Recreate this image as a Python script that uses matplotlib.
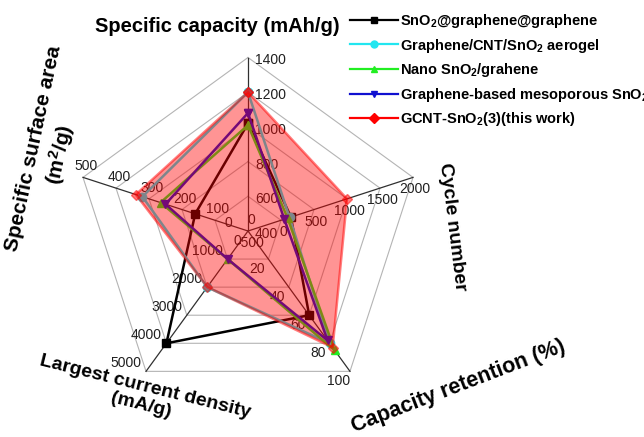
import numpy as np
import matplotlib.pyplot as plt

plt.rcParams['font.family'] = ['Liberation Sans', 'DejaVu Sans']
plt.rcParams['mathtext.fontset'] = 'custom'
plt.rcParams['mathtext.rm'] = 'Liberation Sans'
plt.rcParams['mathtext.bf'] = 'Liberation Sans:bold'
plt.rcParams['mathtext.default'] = 'bf'

# five property axes, clockwise from the top
axis_names = ['Specific capacity (mAh/g)', 'Cycle number', 'Capacity retention (%)',
              'Largest current density\n(mA/g)', 'Specific surface area\n(m$^2$/g)']
axis_lo = [400, -500, 0, 0, 0]
axis_hi = [1400, 2000, 100, 5000, 500]

series = ['SnO$_2$@graphene@graphene', 'Graphene/CNT/SnO$_2$ aerogel', 'Nano SnO$_2$/grahene',
          'Graphene-based mesoporous SnO$_2$', 'GCNT-SnO$_2$(3)(this work)']
capacity = [1020, 1200, 1010, 1080, 1200]
cycles = [150, 130, 100, 50, 1000]
retention = [60, 80, 85, 78, 83]
current = [4000, 2000, 1000, 1000, 2000]
surface = [160, 320, 265, 250, 340]

colors = ['black', '#22e6f0', '#22ee22', '#1010d0', 'red']
markers = ['s', 'o', '^', 'v', 'D']

W, H = 644, 437
fig = plt.figure(figsize=(W / 100, H / 100), dpi=100)
cx, cy, R = 248, 231, 173.5
ax = fig.add_axes([(cx - R) / W, (H - cy - R) / H, 2 * R / W, 2 * R / H], projection='polar')
ax.set_theta_zero_location('N')
ax.set_theta_direction(-1)
ax.set_ylim(0, 1)
ax.grid(False)
ax.set_xticks([])
ax.set_yticks([])
ax.spines['polar'].set_visible(False)
ax.patch.set_visible(False)

theta = np.deg2rad(np.arange(5) * 72)
th_closed = np.append(theta, theta[0])


def norm(vals):
    r = [(v - lo) / (hi - lo) for v, lo, hi in zip(vals, axis_lo, axis_hi)]
    return np.append(r, r[0])


# web: rings and spokes
for k in range(1, 6):
    ax.plot(th_closed, np.full(6, k / 5), color='#b4b4b4', lw=0.8, zorder=1, clip_on=False)
for t in theta:
    ax.plot([t, t], [0, 1], color='#303030', lw=0.9, zorder=1, clip_on=False)

# tick labels along each spoke (offsets in pixels)
offsets = [(7, -3, 'left'), (2, -12, 'center'), (-11, -10, 'center'),
           (-20, 8, 'center'), (3, 11, 'center')]
for i in range(5):
    dx, dy, ha = offsets[i]
    for k, v in enumerate(np.linspace(axis_lo[i], axis_hi[i], 6)):
        ax.annotate(f'{v:.0f}', xy=(theta[i], k / 5), xytext=(dx, dy),
                    textcoords='offset pixels', ha=ha, va='center',
                    fontsize=10, color='#202020', zorder=2, annotation_clip=False)

rows = list(zip(capacity, cycles, retention, current, surface))
handles = []
for j in range(5):
    r = norm(rows[j])
    if j == 4:
        # highlighted sample: translucent red area drawn over the others
        ax.fill(th_closed, r, color='red', alpha=0.42, lw=0, zorder=5)
        ax.plot(th_closed, r, color='red', alpha=0.5, lw=1.8, marker=markers[j],
                ms=5, zorder=6, clip_on=False)
    else:
        ax.plot(th_closed, r, color=colors[j], lw=1.8, marker=markers[j], ms=6,
                zorder=3, clip_on=False)
    h, = ax.plot([], [], color=colors[j], lw=1.6, marker=markers[j], ms=5)
    handles.append(h)

fig.legend(handles, series, loc='upper left', bbox_to_anchor=(350 / W, 1 - 12 / H),
           frameon=False, borderpad=0, borderaxespad=0, handlelength=3.3,
           handletextpad=0.15, labelspacing=0.45, prop={'weight': 'bold', 'size': 10.5})


def label(x, y, s, rot, size=14):
    fig.text(x / W, 1 - y / H, s, rotation=rot, ha='center', va='center',
             multialignment='center', fontsize=size, fontweight='bold',
             rotation_mode='anchor')


label(217, 27, axis_names[0], 0, 14.5)
label(452, 227, axis_names[1], -83)
label(458, 386, axis_names[2], 21, 15.5)
label(143, 396, axis_names[3], -14)
label(48, 152, axis_names[4], 78, 15)

fig.savefig('out.png', dpi=100)
